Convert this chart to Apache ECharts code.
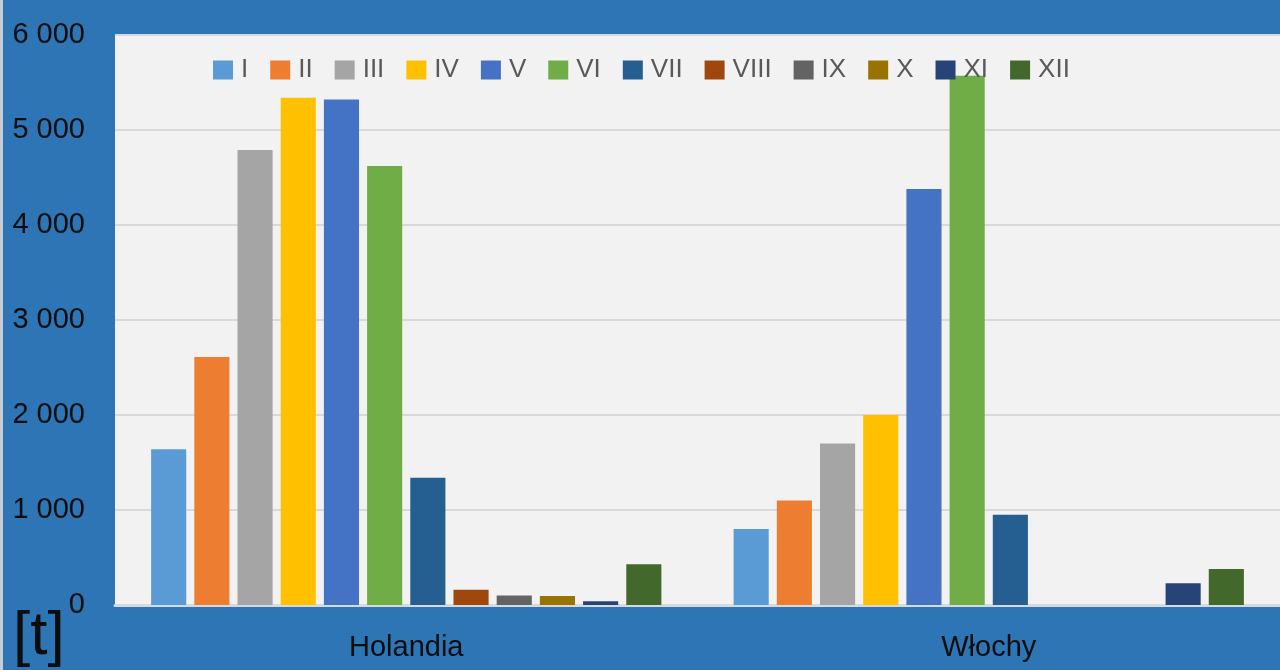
<!DOCTYPE html>
<html>
<head>
<meta charset="utf-8">
<script src="https://cdn.jsdelivr.net/npm/echarts@6/dist/echarts.min.js"></script>
<style>
    html, body { margin:0; padding:0; background:#2E75B6; }
    #chart { width:1280px; height:670px; }
</style>
</head>
<body>
<div id="chart"></div>
<script>
/* 类目 */
const countries = ["Holandia", "Włochy"];

/* 月份 */
const months = ["I", "II", "III", "IV", "V", "VI", "VII", "VIII", "IX", "X", "XI", "XII"];

/* 数值 [t] */
const holandia = [1640, 2610, 4790, 5340, 5320, 4620, 1340, 160, 100, 95, 40, 430];
const wlochy   = [800, 1100, 1700, 2000, 4380, 5570, 950, 0, 0, 0, 230, 380];

/* 颜色 */
const colors = ["#5B9BD5", "#ED7D31", "#A5A5A5", "#FFC000", "#4472C4", "#70AD47",
                "#255E91", "#9E480E", "#636363", "#997300", "#264478", "#43682B"];

/* Y 轴刻度 */
const yTicks = [0, 1000, 2000, 3000, 4000, 5000, 6000];

const font = "Liberation Sans";

const chart = echarts.init(document.getElementById("chart"));

/* 系列 */
const series = months.map((m, i) => {

    return {
        name: m,
        type: "bar",
        barGap: "23%",
        barCategoryGap: "12.4%",
        itemStyle: { color: colors[i] },
        data: [holandia[i], wlochy[i]]
    };
});

chart.setOption({

    backgroundColor: "#2E75B6",

    animation: false,

    color: colors,

    grid: {
        left: 115,
        top: 35,
        right: 0,
        bottom: 65,
        show: true,
        backgroundColor: "#F2F2F2",
        borderWidth: 0
    },

    legend: {
        left: 213,
        top: 57,
        padding: 0,
        itemWidth: 20,
        itemHeight: 19,
        itemGap: 22,
        icon: "rect",
        textStyle: {
            fontFamily: font,
            fontSize: 26,
            color: "#595959",
            padding: [0, 0, 0, 3]
        },
        data: months
    },

    xAxis: {
        type: "category",
        data: countries,
        axisTick: { show: false },
        axisLine: { lineStyle: { color: "#D9D9D9", width: 3 } },
        axisLabel: {
            fontFamily: font,
            fontSize: 29,
            color: "#0d0d0d",
            margin: 28
        }
    },

    yAxis: {
        type: "value",
        min: yTicks[0],
        max: yTicks[yTicks.length - 1],
        interval: 1000,
        axisLine: { show: false },
        axisTick: { show: false },
        splitLine: { lineStyle: { color: "#D9D9D9", width: 2 } },
        axisLabel: {
            fontFamily: font,
            fontSize: 29,
            color: "#0d0d0d",
            margin: 30,
            formatter: v => String(v).replace(/\B(?=(\d{3})+(?!\d))/g, " ")
        }
    },

    graphic: [
        {
            type: "rect",
            left: 0,
            top: 0,
            shape: { width: 3, height: 670 },
            style: { fill: "#C9CED6" }
        },
        {
            type: "text",
            left: 13,
            top: 606,
            style: {
                text: "[t]",
                fontFamily: font,
                fontSize: 62,
                fill: "#0d0d0d"
            }
        }
    ],

    series: series
});
</script>
</body>
</html>
